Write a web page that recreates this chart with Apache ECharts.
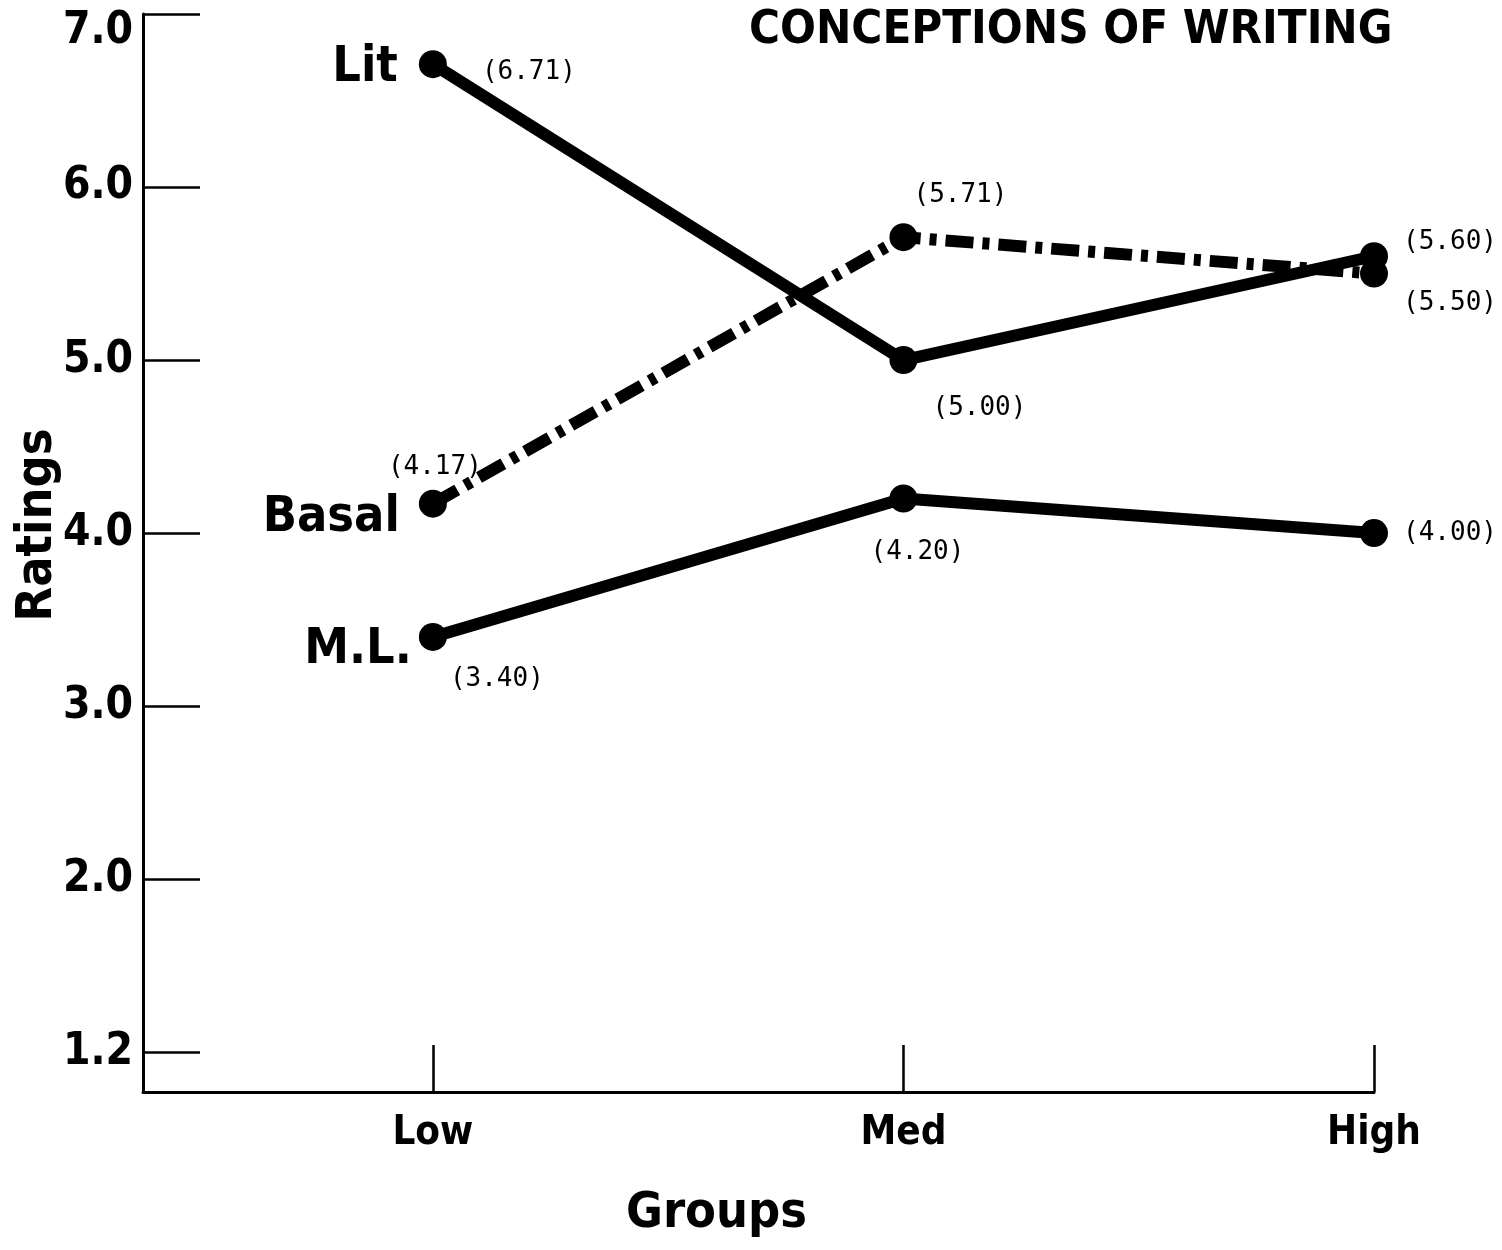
<!DOCTYPE html>
<html>
<head>
<meta charset="utf-8">
<script src="https://cdn.jsdelivr.net/npm/echarts@6/dist/echarts.min.js"></script>
<style>
html,body{margin:0;padding:0;background:#fff;}
#chart{width:1502px;height:1250px;}
</style>
</head>
<body>
<div id="chart"></div>
<script>
// ---- Data ----
const categories = ['Low', 'Med', 'High'];
const seriesNames = ['Lit', 'Basal', 'M.L.'];
const litValues = [6.71, 5.00, 5.60];
const basalValues = [4.17, 5.71, 5.50];
const mlValues = [3.40, 4.20, 4.00];
const yTickValues = [1, 2, 3, 4, 5, 6, 7];
const yTickLabels = ['1.2', '2.0', '3.0', '4.0', '5.0', '6.0', '7.0'];
const xTickValues = [0, 1, 2];

// ---- Styles / label placement ----
const BOLD = "'Liberation Sans Narrow', 'DejaVu Sans Condensed', 'Arial Narrow', sans-serif";
const MONO = "'DejaVu Sans Mono', 'Liberation Mono', monospace";
const valueOffsets = {
  'Lit':   [[96, 8], [76, 48], [76, -14]],
  'Basal': [[2, -36], [57, -42], [76, 30]],
  'M.L.':  [[64, 42], [14, 54], [76, 0]]
};
const nameOffsets = { 'Lit': [-35, 4], 'Basal': [-33, 14], 'M.L.': [-21, 13] };

const valueSets = { 'Lit': litValues, 'Basal': basalValues, 'M.L.': mlValues };

function lineSeries(name, dashed) {
  const vals = valueSets[name];
  return {
    type: 'line',
    name: name,
    symbol: 'circle',
    symbolSize: 28,
    z: 3,
    itemStyle: { color: '#000' },
    lineStyle: {
      color: '#000',
      width: 12,
      type: dashed ? [28, 9, 7, 9] : 'solid',
      cap: 'butt'
    },
    label: {
      show: true,
      position: ['50%', '50%'],
      align: 'center',
      verticalAlign: 'middle',
      fontFamily: MONO,
      fontSize: 26,
      color: '#000',
      formatter: p => '(' + p.value[1].toFixed(2) + ')'
    },
    data: categories.map((c, i) => ({
      value: [i, vals[i]],
      label: { offset: valueOffsets[name][i] }
    }))
  };
}

const nameSeries = {
  type: 'scatter',
  symbol: 'circle',
  symbolSize: 0,
  itemStyle: { color: '#000', opacity: 1 },
  z: 4,
  label: {
    show: true,
    position: ['50%', '50%'],
    align: 'right',
    verticalAlign: 'middle',
    fontFamily: BOLD,
    fontWeight: 'bold',
    fontSize: 50,
    color: '#000',
    formatter: p => p.value[2]
  },
  data: seriesNames.map(n => ({
    value: [0, valueSets[n][0], n],
    label: { offset: nameOffsets[n], color: '#000' }
  }))
};

const chart = echarts.init(document.getElementById('chart'), null, { renderer: 'canvas' });
chart.setOption({
  animation: false,
  backgroundColor: '#fff',
  title: {
    text: 'CONCEPTIONS OF WRITING',
    left: 744,
    top: 2,
    textStyle: { fontFamily: BOLD, fontWeight: 'bold', fontSize: 47, color: '#000' }
  },
  grid: { left: 143, right: 128, top: 14, bottom: 158, outerBoundsMode: 'none', containLabel: false },
  xAxis: {
    type: 'value',
    min: -0.616,
    max: 2,
    name: 'Groups',
    nameLocation: 'middle',
    nameGap: 97,
    nameMoveOverlap: false,
    nameTextStyle: { fontFamily: BOLD, fontWeight: 'bold', fontSize: 50, color: '#000', padding: [0, 84, 0, 0] },
    axisLine: { onZero: false, lineStyle: { color: '#000', width: 3 } },
    axisTick: { inside: true, length: 47, customValues: xTickValues, lineStyle: { color: '#000', width: 2.5 } },
    axisLabel: {
      customValues: xTickValues,
      margin: 22,
      fontFamily: BOLD, fontWeight: 'bold', fontSize: 40, color: '#000',
      formatter: v => categories[Math.round(v)]
    },
    splitLine: { show: false }
  },
  yAxis: {
    type: 'value',
    min: 0.77,
    max: 7,
    name: 'Ratings',
    nameLocation: 'middle',
    nameGap: 80,
    nameMoveOverlap: false,
    nameRotate: 90,
    nameTextStyle: { fontFamily: BOLD, fontWeight: 'bold', fontSize: 50, color: '#000', padding: [0, 0, 0, 56] },
    axisLine: { onZero: false, lineStyle: { color: '#000', width: 3 } },
    axisTick: { inside: true, length: 57, customValues: yTickValues, lineStyle: { color: '#000', width: 2.5 } },
    axisLabel: {
      customValues: yTickValues,
      margin: 10,
      fontFamily: BOLD, fontWeight: 'bold', fontSize: 44, color: '#000',
      formatter: v => {
        const t = yTickLabels[yTickValues.indexOf(v)];
        return v === 7 ? '{top|' + t + '}' : t;
      },
      rich: {
        top: { fontFamily: BOLD, fontWeight: 'bold', fontSize: 44, color: '#000', padding: [36, 0, 0, 0] }
      }
    },
    splitLine: { show: false }
  },
  series: [lineSeries('Lit', false), lineSeries('Basal', true), lineSeries('M.L.', false), nameSeries]
});
</script>
</body>
</html>
